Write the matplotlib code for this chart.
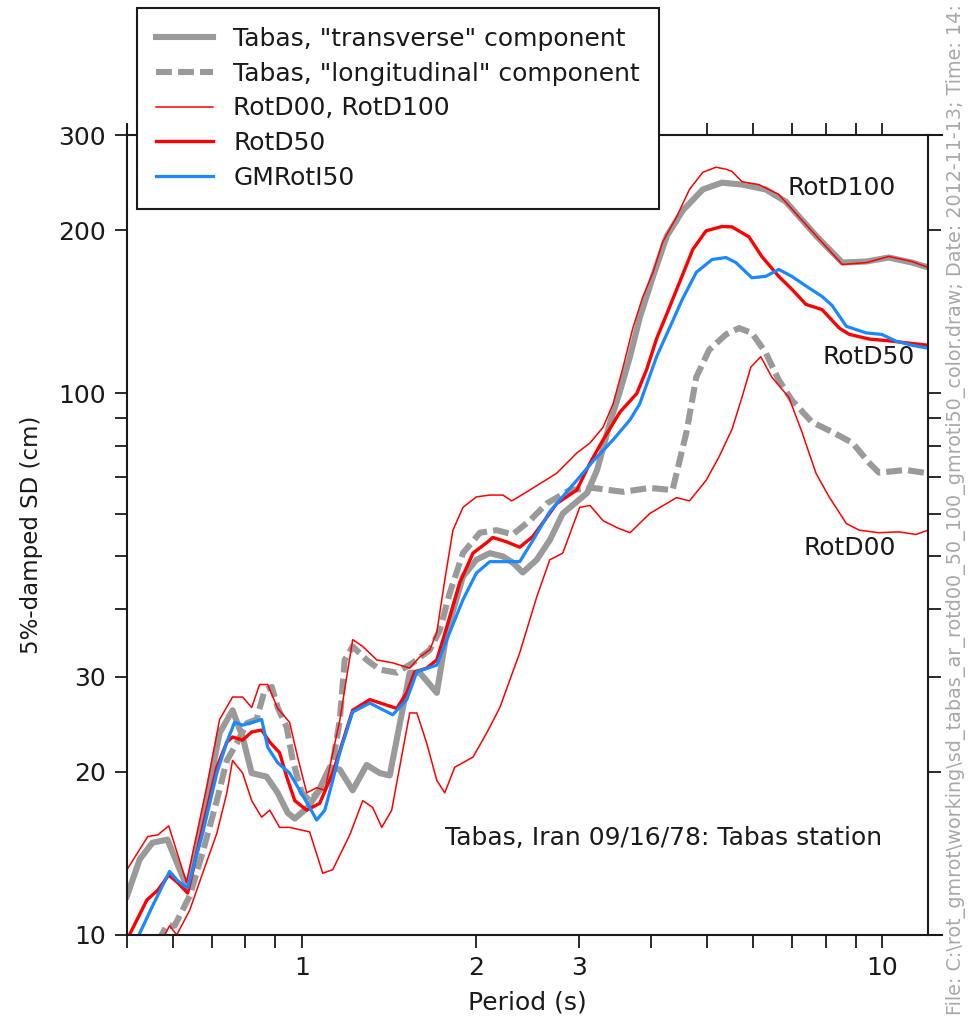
import matplotlib
matplotlib.use("Agg")
import matplotlib.pyplot as plt
from matplotlib.ticker import FixedLocator, NullFormatter

# Tabas, "transverse" component (thick grey)
t_trans = [0.500, 0.526, 0.553, 0.587, 0.611, 0.636, 0.675, 0.722, 0.760, 0.791,
           0.820, 0.870, 0.909, 0.946, 0.973, 1.024, 1.065, 1.118, 1.163, 1.224,
           1.294, 1.363, 1.418, 1.535, 1.597, 1.709, 1.778, 1.896, 2.000, 2.109,
           2.222, 2.310, 2.404, 2.541, 2.676, 2.817, 3.104, 3.228, 3.400, 3.536,
           3.679, 3.824, 4.030, 4.260, 4.540, 4.910, 5.298, 5.737, 6.303, 6.825,
           7.694, 8.541, 9.392, 10.27, 11.26, 12.0]
sd_trans = [11.8, 13.8, 14.8, 15.0, 13.5, 12.2, 16.3, 23.6, 26.0, 23.2,
            19.9, 19.6, 18.3, 16.8, 16.4, 17.2, 18.3, 20.4, 20.2, 18.5,
            20.6, 19.9, 19.7, 30.5, 30.5, 28.0, 36.2, 45.9, 49.3, 50.7,
            50.0, 48.7, 46.7, 49.3, 53.6, 60.0, 65.5, 72.2, 88.5, 101.0,
            117.0, 138.0, 164.5, 195.5, 218.0, 238.0, 245.0, 243.0, 238.0, 226.0,
            195.5, 174.4, 175.2, 178.2, 174.4, 170.9]

# Tabas, "longitudinal" component (thick grey dashed)
t_long = [0.565, 0.585, 0.604, 0.641, 0.675, 0.714, 0.743, 0.773, 0.804, 0.836,
          0.863, 0.888, 0.909, 0.942, 0.965, 1.000, 1.032, 1.074, 1.120, 1.163,
          1.186, 1.224, 1.294, 1.363, 1.458, 1.554, 1.662, 1.729, 1.799, 1.896,
          2.028, 2.166, 2.310, 2.471, 2.643, 2.895, 3.178, 3.579, 3.978, 4.355,
          4.603, 4.785, 5.035, 5.383, 5.669, 5.965, 6.303, 6.636, 6.988, 7.571,
          8.203, 8.894, 9.503, 9.875, 10.99, 12.0]
sd_long = [9.7, 10.4, 10.4, 11.8, 14.2, 17.7, 21.0, 22.6, 24.6, 25.0,
           28.3, 28.7, 26.3, 24.2, 21.0, 18.3, 17.7, 18.5, 19.5, 24.9,
           32.2, 34.1, 32.2, 30.9, 30.5, 31.8, 33.6, 36.5, 42.8, 50.7,
           55.3, 55.9, 54.9, 58.2, 62.6, 66.3, 66.9, 65.8, 66.9, 66.3,
           84.9, 107.2, 120.3, 128.5, 132.0, 129.3, 118.9, 105.9, 97.2, 88.5,
           84.9, 81.0, 74.4, 71.4, 72.2, 71.2]

# RotD100 (thin red, upper)
t_rotd100 = [0.500, 0.543, 0.565, 0.590, 0.633, 0.686, 0.722, 0.760, 0.791, 0.820,
             0.846, 0.874, 0.909, 0.953, 0.984, 1.020, 1.061, 1.096, 1.163, 1.224,
             1.274, 1.347, 1.435, 1.535, 1.597, 1.662, 1.709, 1.764, 1.822, 1.896,
             2.000, 2.109, 2.222, 2.301, 2.443, 2.750, 2.978, 3.139, 3.306, 3.440,
             3.579, 3.720, 3.869, 4.030, 4.187, 4.424, 4.657, 4.910, 5.175, 5.383,
             5.512, 5.737, 6.133, 6.636, 7.694, 8.541, 9.392, 10.27, 11.26, 12.0]
sd_rotd100 = [13.2, 15.2, 15.3, 15.9, 12.5, 18.75, 25.0, 27.5, 27.5, 26.3,
              29.0, 29.0, 26.2, 24.7, 21.3, 18.3, 18.7, 18.5, 24.9, 35.1,
              34.1, 32.2, 31.8, 31.1, 32.6, 33.6, 36.2, 45.2, 55.9, 61.6,
              64.4, 64.9, 64.9, 63.3, 65.8, 71.2, 77.6, 81.0, 86.6, 95.7,
              111.8, 132.0, 150.6, 167.3, 190.3, 211.7, 238.0, 256.0, 261.6, 259.4,
              257.0, 246.0, 243.0, 233.0, 195.5, 173.0, 174.4, 179.0, 175.2, 170.9]

# RotD00 (thin red, lower)
t_rotd00 = [0.575, 0.592, 0.609, 0.641, 0.675, 0.714, 0.743, 0.760, 0.791, 0.820,
            0.853, 0.881, 0.916, 0.953, 1.004, 1.032, 1.087, 1.131, 1.210, 1.274,
            1.325, 1.374, 1.429, 1.535, 1.579, 1.642, 1.709, 1.764, 1.835, 1.973,
            2.083, 2.195, 2.375, 2.541, 2.676, 2.817, 3.013, 3.139, 3.306, 3.493,
            3.679, 3.978, 4.424, 4.657, 4.975, 5.235, 5.512, 5.737, 5.941, 6.180,
            6.455, 6.906, 7.275, 7.694, 8.106, 8.678, 9.138, 9.875, 10.68, 11.44, 12.0]
sd_rotd00 = [9.8, 10.4, 10.0, 11.1, 13.0, 15.4, 18.3, 21.0, 19.9, 17.7,
             16.5, 17.0, 15.8, 15.8, 15.6, 15.5, 13.0, 13.2, 15.3, 17.7,
             17.2, 15.8, 17.0, 25.7, 25.7, 22.6, 19.3, 18.3, 20.4, 21.3,
             23.6, 26.3, 33.2, 42.1, 49.3, 50.7, 61.6, 62.1, 58.2, 56.5,
             55.3, 60.0, 64.2, 63.3, 69.1, 76.3, 85.8, 98.4, 111.8, 116.9,
             107.2, 98.4, 84.9, 71.2, 64.4, 57.5, 55.9, 55.3, 55.5, 54.9, 55.9]

# RotD50 (thick red)
t_rotd50 = [0.500, 0.541, 0.565, 0.590, 0.611, 0.636, 0.675, 0.714, 0.743, 0.760,
            0.791, 0.820, 0.853, 0.881, 0.916, 0.942, 0.973, 1.020, 1.074, 1.131,
            1.224, 1.310, 1.458, 1.517, 1.566, 1.642, 1.709, 1.778, 1.872, 1.973,
            2.083, 2.134, 2.254, 2.375, 2.501, 2.643, 2.750, 2.978, 3.139, 3.306,
            3.536, 3.780, 3.931, 4.089, 4.260, 4.479, 4.720, 4.975, 5.298, 5.512,
            5.896, 6.205, 6.636, 6.988, 7.393, 7.882, 8.438, 8.787, 9.503, 10.39,
            10.99, 12.0]
sd_rotd50 = [9.8, 11.6, 12.1, 12.9, 12.5, 11.95, 15.8, 20.4, 22.7, 23.2,
             22.9, 23.7, 23.9, 22.7, 21.7, 19.6, 17.7, 17.0, 17.5, 19.9,
             26.0, 27.2, 26.2, 28.0, 30.6, 31.1, 32.2, 37.0, 44.7, 50.7,
             53.0, 54.2, 53.2, 52.0, 54.4, 59.0, 62.6, 66.3, 74.4, 82.1,
             92.4, 100.0, 110.8, 126.3, 140.5, 160.5, 184.5, 199.6, 203.3, 203.0,
             194.6, 179.0, 164.5, 155.8, 146.0, 142.8, 132.0, 128.5, 126.0, 124.9,
             124.0, 122.7]

# GMRotI50 (blue)
t_gmroti = [0.515, 0.553, 0.592, 0.611, 0.636, 0.675, 0.714, 0.743, 0.766, 0.791,
            0.823, 0.853, 0.874, 0.909, 0.953, 0.992, 1.032, 1.061, 1.096, 1.131,
            1.163, 1.224, 1.310, 1.435, 1.517, 1.579, 1.709, 1.799, 1.896, 2.000,
            2.109, 2.254, 2.375, 2.501, 2.676, 2.978, 3.178, 3.440, 3.679, 3.824,
            3.931, 4.089, 4.302, 4.530, 4.785, 5.095, 5.383, 5.601, 5.965, 6.303,
            6.636, 6.988, 7.393, 7.882, 8.203, 8.678, 9.392, 9.990, 10.56, 11.26, 12.0]
sd_gmroti = [9.6, 11.3, 13.1, 12.6, 12.2, 15.4, 19.9, 22.7, 24.7, 24.4,
             24.7, 25.0, 22.2, 20.8, 19.9, 18.5, 17.2, 16.3, 17.0, 19.3,
             21.7, 25.8, 26.8, 25.5, 27.2, 30.6, 31.5, 36.2, 41.6, 46.6,
             48.9, 48.9, 48.9, 53.5, 60.5, 69.1, 75.0, 82.1, 89.4, 95.7,
             104.0, 117.0, 132.0, 149.4, 167.3, 176.7, 178.2, 174.4, 163.5, 164.5,
             169.4, 164.5, 157.9, 151.0, 145.3, 133.0, 129.3, 128.5, 124.9, 122.7, 121.2]

x_major = [1, 2, 3, 10]
x_minor = [0.5, 0.6, 0.7, 0.8, 0.9, 4, 5, 6, 7, 8, 9]
y_major = [10, 20, 30, 100, 200, 300]
y_minor = [40, 50, 60, 70, 80, 90]

GREY = "#9a9a9a"
RED = "#ff0000"
BLUE = "#1a88ff"
INK = "#1a1a1a"

fig = plt.figure(figsize=(9.74, 10.29), dpi=100)
ax = fig.add_axes([0.1304, 0.0914, 0.8224, 0.7774])

l_trans, = ax.plot(t_trans, sd_trans, color=GREY, lw=4.4, solid_joinstyle="round",
                   label='Tabas, "transverse" component')
l_long, = ax.plot(t_long, sd_long, color=GREY, lw=4.4, dashes=(2.6, 1.0),
                  dash_capstyle="butt", label='Tabas, "longitudinal" component')
l_d100, = ax.plot(t_rotd100, sd_rotd100, color=RED, lw=1.1, label="RotD00, RotD100")
ax.plot(t_rotd00, sd_rotd00, color=RED, lw=1.1)
l_d50, = ax.plot(t_rotd50, sd_rotd50, color=RED, lw=2.4, label="RotD50")
l_gm, = ax.plot(t_gmroti, sd_gmroti, color=BLUE, lw=2.3, label="GMRotI50")

ax.set_xscale("log")
ax.set_yscale("log")
ax.set_xlim(0.5, 12)
ax.set_ylim(10, 300)

ax.xaxis.set_major_locator(FixedLocator(x_major))
ax.xaxis.set_minor_locator(FixedLocator(x_minor))
ax.yaxis.set_major_locator(FixedLocator(y_major))
ax.yaxis.set_minor_locator(FixedLocator(y_minor))
ax.set_xticklabels([str(v) for v in x_major])
ax.set_yticklabels([str(v) for v in y_major])
ax.xaxis.set_minor_formatter(NullFormatter())
ax.yaxis.set_minor_formatter(NullFormatter())

ax.tick_params(which="both", direction="out", length=9, width=1.3, colors=INK,
               top=True, right=True, labelsize=18, labelcolor=INK)
ax.tick_params(axis="x", pad=6)
ax.tick_params(axis="y", pad=6)
for sp in ax.spines.values():
    sp.set_linewidth(1.5)
    sp.set_color(INK)

# spine stubs running past the box, as in the original plot
ax.plot([1, 1.0175], [0, 0], transform=ax.transAxes, color=INK, lw=1.5, clip_on=False)
ax.plot([1, 1.0175], [1, 1], transform=ax.transAxes, color=INK, lw=1.5, clip_on=False)
ax.plot([0, 0], [1, 1.0125], transform=ax.transAxes, color=INK, lw=1.5, clip_on=False)

ax.set_xlabel("Period (s)", fontsize=18, color=INK)
ax.set_ylabel("5%-damped SD (cm)", fontsize=16.5, color=INK)
ax.xaxis.set_label_coords(0.5, -0.07)
ax.yaxis.set_label_coords(-0.105, 0.5)

ax.text(6.88, 239, "RotD100", fontsize=18, ha="left", va="center", color=INK)
ax.text(7.88, 116.8, "RotD50", fontsize=18, ha="left", va="center", color=INK)
ax.text(7.31, 51.8, "RotD00", fontsize=18, ha="left", va="center", color=INK)
ax.text(10.0, 15.1, "Tabas, Iran 09/16/78: Tabas station", fontsize=18,
        ha="right", va="center", color=INK)

leg = fig.legend(handles=[l_trans, l_long, l_d100, l_d50, l_gm],
                 loc="upper left", bbox_to_anchor=(137 / 974, 1 - 8 / 1029),
                 fontsize=18, frameon=True, fancybox=False, framealpha=1.0,
                 borderaxespad=0, borderpad=0.75, labelspacing=0.43,
                 handlelength=2.3, handletextpad=0.8)
leg.get_frame().set_edgecolor(INK)
leg.get_frame().set_linewidth(1.5)
leg.get_frame().set_facecolor("white")
for txt in leg.get_texts():
    txt.set_color(INK)

fig.text(956 / 974, 1 - 1015 / 1029,
         r"File: C:\rot_gmrot\working\sd_tabas_ar_rotd00_50_100_gmroti50_color.draw; "
         r"Date: 2012-11-13; Time: 14:",
         rotation=90, ha="center", va="bottom", fontsize=13.8, color="#a8a8a8")

fig.savefig("out.png", dpi=100)
